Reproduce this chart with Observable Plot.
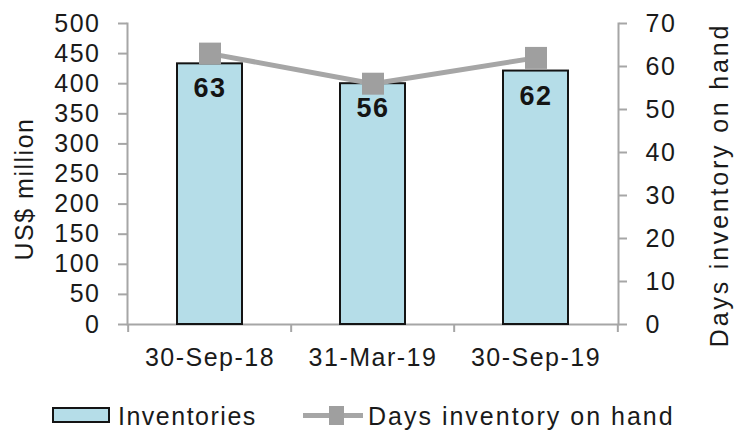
<!DOCTYPE html>
<html><head><meta charset="utf-8">
<script src="https://cdn.jsdelivr.net/npm/d3@7"></script>
<script src="https://cdn.jsdelivr.net/npm/@observablehq/plot@0.6"></script>
<style>
body{margin:0;background:#fff;font-family:"Liberation Sans",Arial,sans-serif;}
#chart{width:736px;height:432px;overflow:hidden;}
.legend{position:relative;height:47px;width:736px;color:#1a1a1a;font-size:25px;letter-spacing:1.5px;}
.legend div{position:absolute;box-sizing:border-box;}
.legend .lbl{line-height:25px;white-space:nowrap;}
</style></head><body><div id="chart"></div>
<script>
const categories = ["30-Sep-18", "31-Mar-19", "30-Sep-19"];
const inventories = [433, 400, 421];
const daysOnHand = [63, 56, 62];
const leftTicks = [0, 50, 100, 150, 200, 250, 300, 350, 400, 450, 500];
const rightTicks = [0, 10, 20, 30, 40, 50, 60, 70];
const seriesNames = ["Inventories", "Days inventory on hand"];
const axisTitles = ["US$ million", "Days inventory on hand"];

const W = 736, H = 385, mL = 127, mR = 118, mT = 23, mB = 61;
const leftMax = 500, rightMax = 70, k = leftMax / rightMax;
const gray = "#a6a6a6", barFill = "#b5dde8", ink = "#1a1a1a";
const rows = categories.map((c, i) => ({cat: c, inv: inventories[i], days: daysOnHand[i]}));
const step = (W - mL - mR) / categories.length;
const tickLen = 8;
const belowZero = -tickLen * leftMax / (H - mT - mB);

const plot = Plot.plot({
  width: W, height: H,
  marginLeft: mL, marginRight: mR, marginTop: mT, marginBottom: mB,
  style: {fontFamily: '"Liberation Sans", Arial, sans-serif', letterSpacing: "1.5px", background: "#fff"},
  x: {type: "band", domain: categories, paddingInner: 0.6, paddingOuter: 0.3},
  y: {domain: [0, leftMax]},
  marks: [
    Plot.frame({anchor: "left", stroke: gray, strokeWidth: 2}),
    Plot.frame({anchor: "right", stroke: gray, strokeWidth: 2}),
    Plot.ruleY([0], {stroke: gray, strokeWidth: 2}),
    Plot.ruleX(categories, {x: d => d, y1: 0, y2: belowZero, dx: -step / 2, stroke: gray, strokeWidth: 2}),
    Plot.ruleX([categories[categories.length - 1]], {x: d => d, y1: 0, y2: belowZero, dx: step / 2, stroke: gray, strokeWidth: 2}),
    Plot.barY(rows, {x: "cat", y: "inv", fill: barFill, stroke: "#141414", strokeWidth: 2}),
    Plot.text(rows, {x: "cat", y: "inv", text: d => String(d.days), dy: 25, fontSize: 27, fontWeight: "bold", fill: "#141414"}),
    Plot.line(rows, {x: "cat", y: d => d.days * k, stroke: gray, strokeWidth: 5}),
    Plot.dot(rows, {x: "cat", y: d => d.days * k, symbol: "square", r: 12.4, fill: "#9f9f9f", stroke: "none"}),
    Plot.axisY(leftTicks, {anchor: "left", tickSize: 9, tickPadding: 18, stroke: gray, strokeWidth: 2, fill: ink, fontSize: 25, label: null}),
    Plot.axisY(rightTicks.map(v => v * k), {anchor: "right", tickSize: 8, tickPadding: 19, tickFormat: v => String(Math.round(v / k)), stroke: gray, strokeWidth: 2, fill: ink, fontSize: 25, label: null}),
    Plot.axisX({tickSize: 0, tickPadding: 24, fontSize: 25, fill: ink, label: null}),
    Plot.text([axisTitles[0]], {frameAnchor: "left", textAnchor: "middle", lineAnchor: "middle", rotate: -90, dx: -103, dy: 15, fontSize: 25, fill: ink}),
    Plot.text([axisTitles[1]], {frameAnchor: "right", textAnchor: "middle", lineAnchor: "middle", rotate: -90, dx: 101, dy: 11, fontSize: 25, fill: ink})
  ]
});
const chart = document.getElementById("chart");
chart.appendChild(plot);
plot.querySelectorAll("text").forEach(t => {
  if (t.textContent === axisTitles[1]) t.setAttribute("letter-spacing", "2.8px");
});

const legend = document.createElement("div");
legend.className = "legend";
legend.innerHTML = `
  <div style="left:52px;top:22px;width:58px;height:16px;background:${barFill};border:2px solid #141414"></div>
  <div class="lbl" style="left:118px;top:19px">${seriesNames[0]}</div>
  <div style="left:303px;top:28px;width:60px;height:5px;background:${gray}"></div>
  <div style="left:329px;top:21px;width:15px;height:19px;background:#9f9f9f"></div>
  <div class="lbl" style="left:368px;top:19px;letter-spacing:2px">${seriesNames[1]}</div>`;
chart.appendChild(legend);
</script>
</body></html>
